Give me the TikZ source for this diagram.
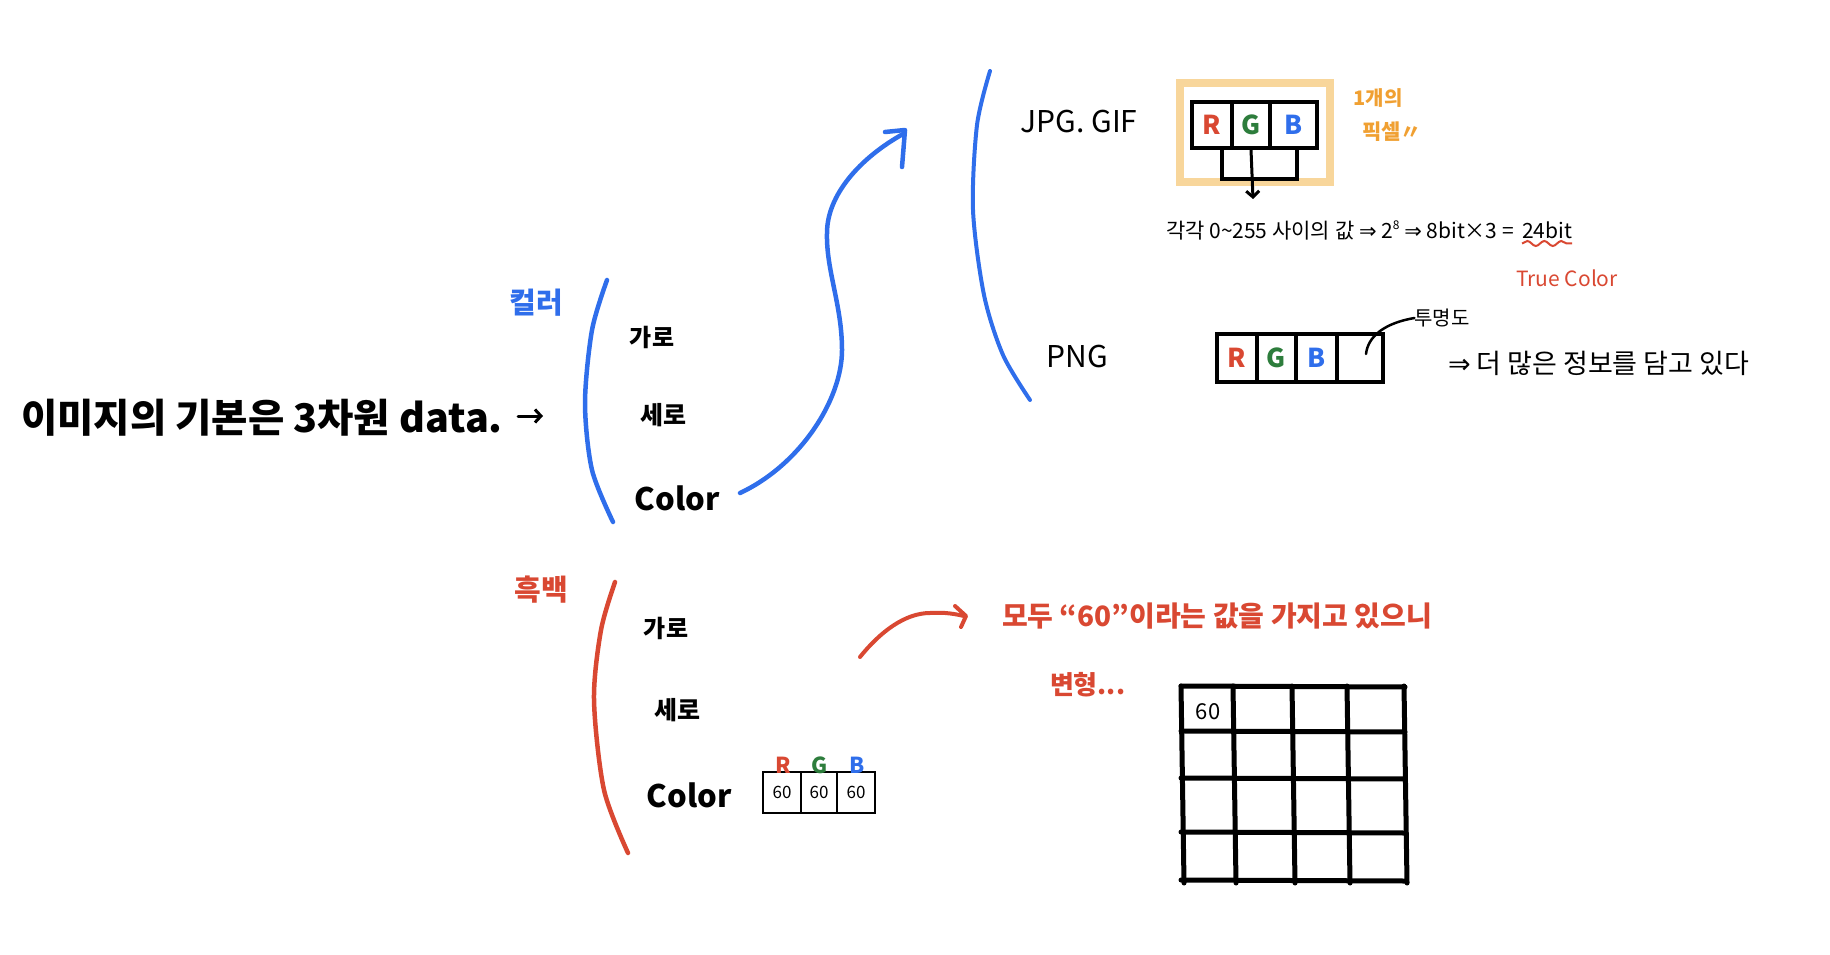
\documentclass[tikz,border=0pt]{standalone}
\usepackage{fontspec}
\setmainfont{Noto Sans CJK KR}
\newfontfamily\symfont{DejaVu Sans}
\usetikzlibrary{arrows.meta,decorations.pathmorphing}
\definecolor{myblue}{RGB}{47,110,235}
\definecolor{myred}{RGB}{217,72,50}
\definecolor{mygreen}{RGB}{45,125,60}
\definecolor{myorange}{RGB}{240,160,50}
\definecolor{lightorange}{RGB}{248,214,155}
\newcommand\setfs[1]{\fontsize{#1}{#1}\selectfont}
\begin{document}
\begin{tikzpicture}[x=1pt,y=-1pt,
  t/.style={inner sep=0pt, outer sep=0pt},
  hw/.style={t, font=\bfseries},
  brace/.style={line width=4.5pt, line cap=round},
  cellA/.style={draw=black, line width=3.5pt, inner sep=0pt, minimum height=46pt, font=\bfseries\setfs{26}},
  cellS/.style={draw=black, line width=1.3pt, inner sep=0pt, minimum height=41pt, font=\setfs{17}},
  stroke/.style={line width=3pt, line cap=round},
  barbtip/.style={-{Straight Barb[length=6pt,width=13pt]}}
]
\useasboundingbox (0,0) rectangle (1830,955);

% ---------- main statement ----------
\node[hw, anchor=west, font=\bfseries\setfs{39.5}] (main) at (21,418) {이미지의 기본은 3차원 data.};
\coordinate (ma1) at (518,416);
\coordinate (ma2) at (543,416);
\draw[stroke, barbtip] (ma1) -- (ma2);

% ---------- colour branch ----------
\node[hw, text=myblue, font=\bfseries\setfs{29}] (kc) at (536,303) {컬러};
\draw[brace, myblue] plot[smooth] coordinates {(607,280) (592,330) (585,403) (592,470) (613,522)};
\node[hw, font=\bfseries\setfs{24}] (k1) at (652,337) {가로};
\node[hw, font=\bfseries\setfs{25}] (k2) at (663,415) {세로};
\node[hw, font=\bfseries\setfs{31}] (k3) at (677,498) {Color};

% blue S arrow
\coordinate (bs) at (740,493);
\coordinate (bm1) at (842,350);
\coordinate (bm2) at (827,233);
\coordinate (bend) at (903,134);
\coordinate (btip) at (905,130);
\coordinate (bb1) at (885,132);
\coordinate (bb2) at (902,167);
\draw[myblue, line width=4.5pt, line cap=round] (bs) .. controls (800,465) and (842,400) .. (bm1)
  .. controls (842,305) and (826,270) .. (bm2)
  .. controls (827,195) and (860,158) .. (bend);
\draw[myblue, line width=4.5pt, line cap=round, line join=round] (bb1) -- (btip) -- (bb2);

% file format brace
\draw[brace, myblue, line width=4pt] plot[smooth] coordinates {(990,71) (977,125) (973,210) (984,295) (1003,355) (1030,400)};
\node[t, font=\setfs{30}] (jpg) at (1079,122) {JPG. GIF};
\node[t, font=\setfs{30}] (png) at (1077,357) {PNG};

% JPG pixel
\node[draw=lightorange, line width=8pt, minimum width=150pt, minimum height=99pt] (pix) at (1255,132.5) {};
\node[cellA, minimum width=40pt, text=myred] (jr) at (1212,125) {R};
\node[cellA, minimum width=38pt, text=mygreen] (jg) at (1251,125) {G};
\node[cellA, minimum width=47pt, text=myblue] (jb) at (1293.5,125) {B};
\draw[line width=3.5pt] (jr.south east) ++(-12,0) coordinate (k0) -- ++(0,29) -- ++(75,0) -- ++(0,-29);
\coordinate (jt) at (1253,199);
\draw[stroke, barbtip] (jg.south) -- (jt);
\node[t, text=myorange, font=\bfseries\setfs{20}] (p1) at (1378,98) {1개의};
\node[t, text=myorange, font=\bfseries\setfs{21}] (p2) at (1392,132) {픽셀〃};

\node[t, anchor=west, font=\setfs{21}] (val) at (1166,230) {각각 0\textasciitilde 255 사이의 값 {\symfont ⇒} 2\raisebox{9pt}{\setfs{12}8} {\symfont ⇒} 8bit×3 = };
\node[t, anchor=west, font=\setfs{21}] (bit) at (1522,230) {24bit};
\draw[myred, line width=2pt, decorate, decoration={snake, amplitude=2.5pt, segment length=17pt}] ([yshift=-5pt]bit.south west) -- ([yshift=-5pt]bit.south east);
\node[t, text=myred, font=\setfs{21}] (tc) at (1567,278) {True Color};

% PNG pixel
\node[cellA, minimum height=48pt, minimum width=40pt, text=myred] (pr) at (1237,358) {R};
\node[cellA, minimum height=48pt, minimum width=39pt, text=mygreen] (pg) at (1276.5,358) {G};
\node[cellA, minimum height=48pt, minimum width=41pt, text=myblue] (pb) at (1316.5,358) {B};
\node[cellA, minimum height=48pt, minimum width=46pt] (pa) at (1360,358) {};
\node[t, font=\setfs{20}] (tm) at (1442,318) {투명도};
\coordinate (tl) at (1366,354);
\draw[line width=2.5pt, line cap=round] (tl) .. controls (1368,336) and (1385,323) .. (tm.west);
\node[t, anchor=west, font=\setfs{27}] (more) at (1448,363) {{\symfont ⇒} 더 많은 정보를 담고 있다};

% ---------- black & white branch ----------
\node[hw, text=myred, font=\bfseries\setfs{29}] (bw) at (541,590) {흑백};
\draw[brace, myred] plot[smooth] coordinates {(615,582) (601,630) (594,700) (604,790) (628,853)};
\node[hw, font=\bfseries\setfs{24}] (b1) at (666,628) {가로};
\node[hw, font=\bfseries\setfs{25}] (b2) at (677,710) {세로};
\node[hw, font=\bfseries\setfs{31}] (b3) at (689,795) {Color};

\node[cellS, minimum width=38pt] (s1) at (782,792.5) {60};
\node[cellS, minimum width=36pt] (s2) at (819,792.5) {60};
\node[cellS, minimum width=38pt] (s3) at (856,792.5) {60};
\node[hw, text=myred, font=\bfseries\setfs{22}] (sr) at (783,765) {R};
\node[hw, text=mygreen, font=\bfseries\setfs{22}] (sg) at (820,765) {G};
\node[hw, text=myblue, font=\bfseries\setfs{22}] (sb) at (857,765) {B};

% red arrow
\coordinate (rs) at (860,657);
\coordinate (rm) at (930,613);
\coordinate (rend) at (964,616);
\coordinate (rtip) at (966,616);
\coordinate (rb1) at (955,606);
\coordinate (rb2) at (961,627);
\draw[myred, line width=4pt, line cap=round] (rs) .. controls (880,632) and (905,613) .. (rm) .. controls (945,612) and (955,614) .. (rend);
\draw[myred, line width=4pt, line cap=round, line join=round] (rb1) -- (rtip) -- (rb2);

\node[t, anchor=west, text=myred, font=\bfseries\setfs{28}] (all) at (1002,616) {모두 “60”이라는 값을 가지고 있으니};
\node[t, anchor=west, text=myred, font=\bfseries\setfs{26}] (chg) at (1050,685) {변형...};

% grid
\foreach \y in {686,731,778,832,880} \draw[line width=5pt, line cap=round] (1181,\y) -- (1405,\y+1);
\foreach \x in {1181,1233,1292,1347,1404} \draw[line width=5pt, line cap=round] (\x,686) -- (\x+3,883);
\node[t, font=\setfs{22}] (g60) at (1208,712) {60};
\end{tikzpicture}
\end{document}
